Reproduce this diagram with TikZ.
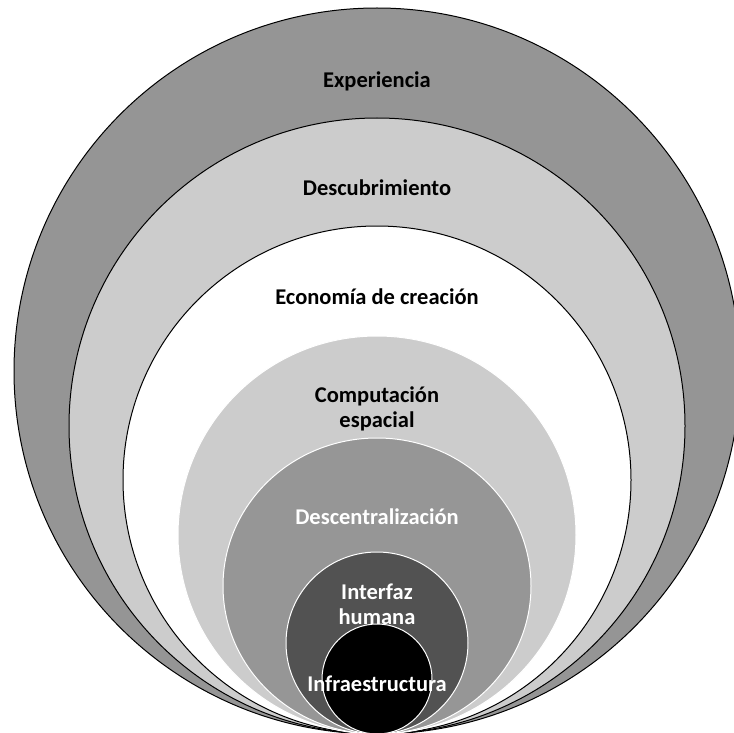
\documentclass[tikz,border=0pt]{standalone}
\usepackage{fontspec}
\setmainfont{Carlito}
\definecolor{gA}{RGB}{149,149,149}
\definecolor{gB}{RGB}{204,204,204}
\definecolor{gC}{RGB}{150,150,150}
\definecolor{gD}{RGB}{82,82,82}
\tikzset{
  outerring/.style={draw=black, line width=1pt},
  innerring/.style={draw=white, line width=1pt},
  lbl/.style={font=\fontsize{22.5}{25}\selectfont\bfseries, align=center, inner sep=0pt},
}
\begin{document}
\begin{tikzpicture}[x=1pt,y=-1pt]
\useasboundingbox (0,0) rectangle (734,733);
\clip (0,0) rectangle (734,733);
\fill[white] (0,0) rectangle (734,733);
\path[outerring, fill=gA] (377,371) circle [radius=363];
\path[outerring, fill=gB] (377,426) circle [radius=308];
\path[outerring, fill=white] (377,480) circle [radius=254];
\path[innerring, fill=gB] (377,535) circle [radius=199];
\path[innerring, fill=gC] (377,586) ellipse [x radius=154, y radius=148];
\path[innerring, fill=gD] (377,643) circle [radius=91];
\path[innerring, fill=black] (377,679) circle [radius=55];
\node[lbl, text=black] (t1) at (377,81) {Experiencia};
\node[lbl, text=black] (t2) at (377,188) {Descubrimiento};
\node[lbl, text=black] (t3) at (377,297) {Economía de creación};
\node[lbl, text=black] (t4) at (377,409) {Computación\\espacial};
\node[lbl, text=white] (t5) at (377,517) {Descentralización};
\node[lbl, text=white] (t6) at (377,604) {Interfaz\\humana};
\node[lbl, text=white] (t7) at (377,684) {Infraestructura};
\end{tikzpicture}
\end{document}
